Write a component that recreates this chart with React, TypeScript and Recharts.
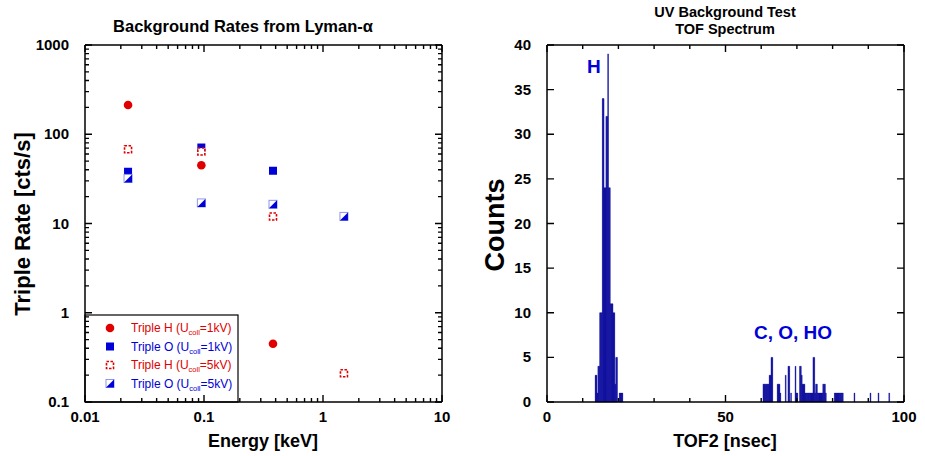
import React from 'react';
import { ScatterChart, Scatter, BarChart, Bar, XAxis, YAxis, ReferenceLine } from 'recharts';

// Left panel: background rates vs energy (log/log)
const energies = [0.023, 0.095, 0.38, 1.5];
const tripleH1kV = [213, 45, 0.45, null];
const tripleO1kV = [38, 71, 39, null];
const tripleH5kV = [68, 64, 12, 0.21];
const tripleO5kV = [32, 17, 16.4, 12];

// Right panel: TOF spectrum, 0.25 nsec bins (bin centres) and counts
const hPeakBins = [13.625, 13.875, 14.125, 14.375, 14.625, 14.875, 15.125, 15.375, 15.625, 15.875,
    16.125, 16.375, 16.625, 16.875, 17.125, 17.375, 17.625, 17.875, 18.125, 18.375, 18.625, 18.875,
    19.125, 19.375, 19.625, 20.375, 20.625, 20.875, 21.125];
const hPeakCounts = [3, 3, 1, 4, 4, 10, 10, 10, 34, 34,
    24, 24, 32, 32, 39, 24, 24, 11, 11, 11, 10, 10,
    2, 5, 5, 1, 1, 1, 1];
const heavyBins = [60.625, 60.875, 61.125, 61.375, 61.625, 61.875, 62.125, 62.375, 62.625, 62.875, 63.125,
    64.625, 64.875, 65.125, 65.375, 66.875, 67.625, 67.875, 68.375, 69.625, 69.875, 70.125,
    70.875, 71.125, 71.375, 71.625, 71.875, 72.125, 72.375, 72.625, 72.875, 73.125, 73.375, 73.625,
    73.875, 74.125, 74.375, 74.625, 74.875, 75.125, 75.375, 75.625, 75.875, 76.125, 76.375, 76.625,
    76.875, 77.125, 77.375, 77.625, 77.875, 78.125,
    80.625, 80.875, 81.125, 81.375, 81.625, 81.875, 82.125, 82.375, 82.625, 82.875,
    86.125, 90.625, 92.875, 95.875];
const heavyCounts = [2, 2, 2, 2, 2, 2, 2, 3, 3, 5, 5,
    2, 2, 2, 1, 3, 4, 4, 1, 4, 1, 1,
    4, 4, 3, 2, 2, 2, 1, 1, 1, 1, 1, 1,
    1, 1, 1, 5, 5, 1, 2, 2, 1, 1, 1, 1,
    1, 1, 2, 2, 2, 1,
    1, 1, 1, 1, 1, 1, 1, 1, 1, 1,
    1, 1, 1, 1];

const energyTicks = [0.01, 0.1, 1, 10];
const rateTicks = [0.1, 1, 10, 100, 1000];
const tofTicks = [0, 10, 20, 30, 40, 50, 60, 70, 80, 90, 100];
const tofLabels = [0, 50, 100];
const countTicks = [0, 5, 10, 15, 20, 25, 30, 35, 40];

const RED = '#e00000';
const BLUE = '#0000d8';
const BAR = '#000099';
const FONT = '"Liberation Sans", Arial, Helvetica, sans-serif';

// plot boxes (page px) given by the chart sizes and margins below
const L = { x0: 85, x1: 442, y0: 45, y1: 402 };
const R = { x0: 547, x1: 904, y0: 45, y1: 402 };

const withMinors = (decades: number[]) => {
    const out: number[] = [];
    decades.forEach((d, i) => {
        out.push(d);
        if (i < decades.length - 1) for (let k = 2; k <= 9; k++) out.push(d * k);
    });
    return out;
};
const isDecade = (v: number) => Math.abs(Math.log10(v) - Math.round(Math.log10(v))) < 1e-9;

// tick labels only; tick marks go in the frame overlay
function makeLabel(side: 'bottom' | 'left', label: (v: number) => string | null) {
    return (props: any) => {
        const x = Number(props.x);
        const y = Number(props.y);
        const text = label(props.payload.value as number);
        if (!text) return <g />;
        return side === 'bottom'
            ? <text x={x} y={y + 20} textAnchor="middle" fontFamily={FONT} fontWeight="bold" fontSize={15} fill="#000">{text}</text>
            : <text x={x - 16} y={y + 5} textAnchor="end" fontFamily={FONT} fontWeight="bold" fontSize={15} fill="#000">{text}</text>;
    };
}

// inward tick marks on all four sides of a plot box
function frameTicks(box: typeof L, xs: number[], ys: number[], fx: (v: number) => number, fy: (v: number) => number,
    xMajor: (v: number) => boolean, yMajor: (v: number) => boolean) {
    let d = '';
    xs.forEach(v => {
        const px = fx(v);
        const len = xMajor(v) ? 7 : 4;
        d += `M${px},${box.y1}v${-len}M${px},${box.y0}v${len}`;
    });
    ys.forEach(v => {
        const py = fy(v);
        const len = yMajor(v) ? 7 : 4;
        d += `M${box.x0},${py}h${len}M${box.x1},${py}h${-len}`;
    });
    return d;
}

const Dot = ({ cx, cy }: any) => <circle cx={cx} cy={cy} r={4.3} fill={RED} />;
const FilledSq = ({ cx, cy }: any) => <rect x={cx - 4} y={cy - 4} width={8} height={8} fill={BLUE} />;
const OpenSq = ({ cx, cy }: any) => (
    <rect x={cx - 3.5} y={cy - 3.5} width={7} height={7} fill="#fff" stroke={RED} strokeWidth={1.6} strokeDasharray="2.5 1.5" />
);
const HalfSq = ({ cx, cy }: any) => (
    <g>
        <rect x={cx - 4} y={cy - 4} width={8} height={8} fill="#fff" stroke="#8f96e6" strokeWidth={1} />
        <path d={`M${cx + 4},${cy - 4} L${cx + 4},${cy + 4} L${cx - 4},${cy + 4} Z`} fill={BLUE} />
    </g>
);

const toPoints = (vals: (number | null)[]) =>
    energies.map((e, i) => ({ e, r: vals[i] })).filter(p => p.r !== null);

const tofData = [
    ...hPeakBins.map((t, i) => ({ t, c: hPeakCounts[i] })),
    ...heavyBins.map((t, i) => ({ t, c: heavyCounts[i] })),
];

const legendRows = [
    { text: 'Triple H (U', tail: '=1kV)', color: RED, Shape: Dot },
    { text: 'Triple O (U', tail: '=1kV)', color: BLUE, Shape: FilledSq },
    { text: 'Triple H (U', tail: '=5kV)', color: RED, Shape: OpenSq },
    { text: 'Triple O (U', tail: '=5kV)', color: BLUE, Shape: HalfSq },
];

const fmtLog = (v: number) => (isDecade(v) ? String(Number(v.toPrecision(6))) : null);
const axisLine = { stroke: '#000', strokeWidth: 1.5 };

export default function App() {
    const eTicks = withMinors(energyTicks);
    const rTicks = withMinors(rateTicks);
    const leftTicks = frameTicks(L, eTicks, rTicks,
        v => L.x0 + ((Math.log10(v) + 2) / 3) * (L.x1 - L.x0),
        v => L.y1 - ((Math.log10(v) + 1) / 4) * (L.y1 - L.y0),
        isDecade, isDecade);
    const rightTicks = frameTicks(R, tofTicks, countTicks,
        v => R.x0 + (v / 100) * (R.x1 - R.x0),
        v => R.y1 - (v / 40) * (R.y1 - R.y0),
        v => tofLabels.includes(v), () => true);
    return (
        <div style={{ position: 'absolute', left: 0, top: 0, width: 925, height: 456, background: '#fff', fontFamily: FONT }}>
            <svg width={925} height={456} style={{ position: 'absolute', left: 0, top: 0 }} fontFamily={FONT}>
                <text x={243} y={32} textAnchor="middle" fontWeight="bold" fontSize={16.5}>Background Rates from Lyman-α</text>
                <text x={725} y={17} textAnchor="middle" fontWeight="bold" fontSize={14.5}>UV Background Test</text>
                <text x={725} y={34} textAnchor="middle" fontWeight="bold" fontSize={14.5}>TOF Spectrum</text>
                <text x={263} y={447} textAnchor="middle" fontWeight="bold" fontSize={18}>Energy [keV]</text>
                <text x={725} y={447} textAnchor="middle" fontWeight="bold" fontSize={18}>TOF2 [nsec]</text>
                <text transform="translate(30,224) rotate(-90)" textAnchor="middle" fontWeight="bold" fontSize={22}>Triple Rate [cts/s]</text>
                <text transform="translate(504,225) rotate(-90)" textAnchor="middle" fontWeight="bold" fontSize={27}>Counts</text>
                <text x={587} y={73} fontWeight="bold" fontSize={19} fill={BLUE}>H</text>
                <text x={754} y={339} fontWeight="bold" fontSize={19} fill={BLUE}>C, O, HO</text>
                <rect x={85} y={315} width={153} height={87} fill="#fff" stroke="#000" strokeWidth={1.2} />
                {legendRows.map((row, i) => {
                    const cy = 328 + i * 18.5;
                    const { Shape } = row;
                    return (
                        <g key={i}>
                            <Shape cx={110} cy={cy} />
                            <text x={131} y={cy + 4} fontSize={12} fill={row.color}>
                                {row.text}
                                <tspan fontSize={7.5} dy={3}>coll</tspan>
                                <tspan dy={-3}>{row.tail}</tspan>
                            </text>
                        </g>
                    );
                })}
            </svg>
            <div style={{ position: 'absolute', left: 0, top: 0 }}>
                <ScatterChart width={460} height={456} margin={{ top: 45, right: 18, bottom: 0, left: 0 }}>
                    <XAxis dataKey="e" type="number" scale="log" domain={[0.01, 10]} ticks={eTicks}
                        interval={0} height={54} tickSize={0} tickMargin={0} tickLine={false} axisLine={axisLine}
                        tick={makeLabel('bottom', fmtLog)} />
                    <YAxis dataKey="r" type="number" scale="log" domain={[0.1, 1000]} ticks={rTicks}
                        interval={0} width={85} tickSize={0} tickMargin={0} tickLine={false} axisLine={axisLine}
                        tick={makeLabel('left', fmtLog)} />
                    <ReferenceLine y={1000} stroke="#000" strokeWidth={1.5} />
                    <ReferenceLine x={10} stroke="#000" strokeWidth={1.5} />
                    <Scatter name="Triple H 1kV" data={toPoints(tripleH1kV)} shape={Dot} isAnimationActive={false} />
                    <Scatter name="Triple O 1kV" data={toPoints(tripleO1kV)} shape={FilledSq} isAnimationActive={false} />
                    <Scatter name="Triple H 5kV" data={toPoints(tripleH5kV)} shape={OpenSq} isAnimationActive={false} />
                    <Scatter name="Triple O 5kV" data={toPoints(tripleO5kV)} shape={HalfSq} isAnimationActive={false} />
                </ScatterChart>
            </div>
            <div style={{ position: 'absolute', left: 460, top: 0 }}>
                <BarChart width={465} height={456} data={tofData} margin={{ top: 45, right: 21, bottom: 0, left: 0 }}>
                    <XAxis dataKey="t" type="number" domain={[0, 100]} ticks={tofTicks}
                        interval={0} height={54} tickSize={0} tickMargin={0} tickLine={false} axisLine={axisLine}
                        tick={makeLabel('bottom', v => (tofLabels.includes(v) ? String(v) : null))} />
                    <YAxis type="number" domain={[0, 40]} ticks={countTicks}
                        interval={0} width={87} tickSize={0} tickMargin={0} tickLine={false} axisLine={axisLine}
                        tick={makeLabel('left', v => String(v))} />
                    <ReferenceLine y={40} stroke="#000" strokeWidth={1.5} />
                    <ReferenceLine x={100} stroke="#000" strokeWidth={1.5} />
                    <Bar dataKey="c" fill={BAR} stroke={BAR} strokeWidth={0.4} barSize={1.6} isAnimationActive={false} />
                </BarChart>
            </div>
            {/* inward tick marks on all four frame sides */}
            <svg width={925} height={456} style={{ position: 'absolute', left: 0, top: 0, pointerEvents: 'none' }}>
                <path d={leftTicks} stroke="#000" strokeWidth={1.4} fill="none" />
                <path d={rightTicks} stroke="#000" strokeWidth={1.4} fill="none" />
            </svg>
        </div>
    );
}
